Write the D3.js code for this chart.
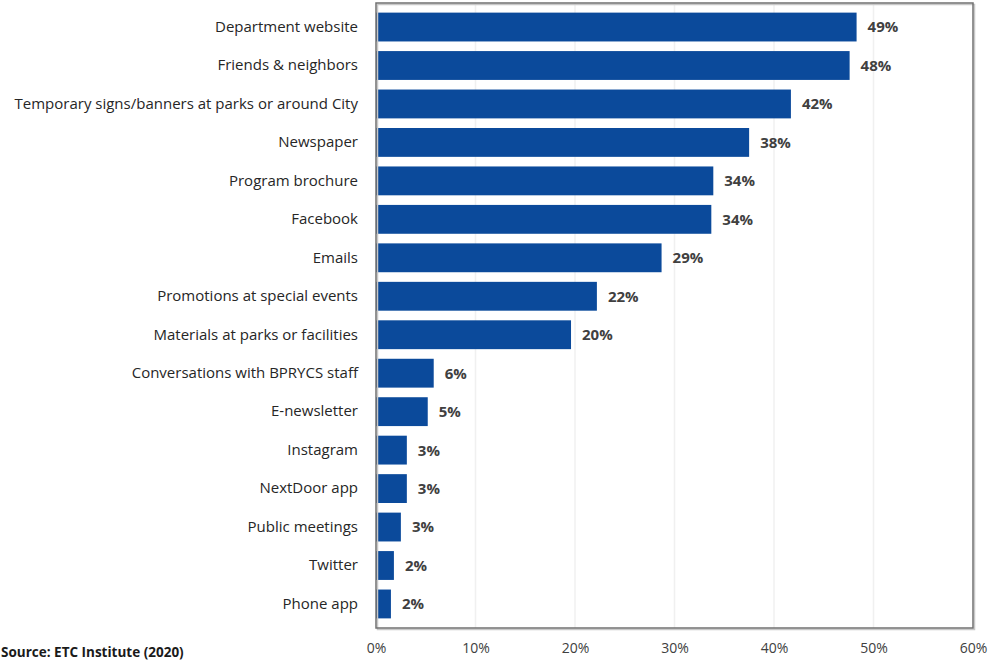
<!DOCTYPE html>
<html>
<head>
<meta charset="utf-8">
<script src="https://cdn.jsdelivr.net/npm/d3@7"></script>
<style>
  html, body { margin: 0; padding: 0; background: #fff; overflow: hidden; }
  svg { display: block; }
</style>
</head>
<body>
<svg id="chart" width="991" height="661"></svg>
<script>
const categories = [
  "Department website",
  "Friends & neighbors",
  "Temporary signs/banners at parks or around City",
  "Newspaper",
  "Program brochure",
  "Facebook",
  "Emails",
  "Promotions at special events",
  "Materials at parks or facilities",
  "Conversations with BPRYCS staff",
  "E-newsletter",
  "Instagram",
  "NextDoor app",
  "Public meetings",
  "Twitter",
  "Phone app"
];
const values = [48.3, 47.6, 41.7, 37.5, 33.9, 33.7, 28.7, 22.2, 19.6, 5.8, 5.2, 3.1, 3.1, 2.5, 1.8, 1.5];
const valueLabels = ["49%", "48%", "42%", "38%", "34%", "34%", "29%", "22%", "20%", "6%", "5%", "3%", "3%", "3%", "2%", "2%"];
const xTicks = [0, 10, 20, 30, 40, 50, 60];
const sourceNote = "Source:  ETC Institute (2020)";

(function () {
  const svg = d3.select("#chart");
  const pLeft = 376, pRight = 973, pTop = 3, pBottom = 628;
  const font = "'Open Sans', Lato, 'DejaVu Sans', sans-serif";

  const x = d3.scaleLinear().domain([0, 60]).range([pLeft, pRight]);
  const y = d3.scaleBand().domain(categories).range([pTop, pBottom]).padding(0.25);

  // gridlines
  svg.append("g").selectAll("line").data(xTicks.slice(1, -1)).join("line")
    .attr("x1", d => x(d)).attr("x2", d => x(d))
    .attr("y1", pTop).attr("y2", pBottom)
    .attr("stroke", "#f0f0f0").attr("stroke-width", 1.5);

  // bars
  svg.append("g").selectAll("rect").data(values).join("rect")
    .attr("x", x(0))
    .attr("y", (d, i) => y(categories[i]))
    .attr("width", d => x(d) - x(0))
    .attr("height", y.bandwidth())
    .attr("fill", "#0b4a9b");

  // value labels
  svg.append("g").selectAll("text").data(values).join("text")
    .attr("x", d => x(d) + 11)
    .attr("y", (d, i) => y(categories[i]) + y.bandwidth() / 2)
    .attr("dy", "0.36em")
    .attr("font-family", font)
    .attr("font-weight", "bold")
    .attr("font-size", 15)
    .attr("fill", "#404040")
    .text((d, i) => valueLabels[i]);

  // frame with slight shadow
  svg.append("rect")
    .attr("x", pLeft + 1.5).attr("y", pTop + 1.5)
    .attr("width", pRight - pLeft).attr("height", pBottom - pTop)
    .attr("fill", "none").attr("stroke", "#c8c8c8").attr("stroke-width", 1.5);
  svg.append("rect")
    .attr("x", pLeft).attr("y", pTop)
    .attr("width", pRight - pLeft).attr("height", pBottom - pTop)
    .attr("fill", "none").attr("stroke", "#707070").attr("stroke-width", 1.5);

  // y axis category labels
  const yAxis = d3.axisLeft(y).tickSize(0).tickPadding(18);
  const gy = svg.append("g").attr("transform", `translate(${pLeft},0)`).call(yAxis);
  gy.select(".domain").remove();
  gy.selectAll("text")
    .attr("font-family", font)
    .attr("font-size", 15)
    .attr("fill", "#262626");

  // x axis tick labels
  const xAxis = d3.axisBottom(x).tickValues(xTicks).tickFormat(d => d + "%").tickSize(0).tickPadding(15);
  const gx = svg.append("g").attr("transform", `translate(0,${pBottom})`).call(xAxis);
  gx.select(".domain").remove();
  gx.selectAll("text")
    .attr("font-family", font)
    .attr("font-size", 14)
    .attr("fill", "#404040");

  // source note
  svg.append("text")
    .attr("x", 1).attr("y", 657)
    .attr("font-family", font)
    .attr("font-weight", "bold")
    .attr("font-size", 13.5)
    .attr("fill", "#1a1a1a")
    .text(sourceNote);
})();
</script>
</body>
</html>
